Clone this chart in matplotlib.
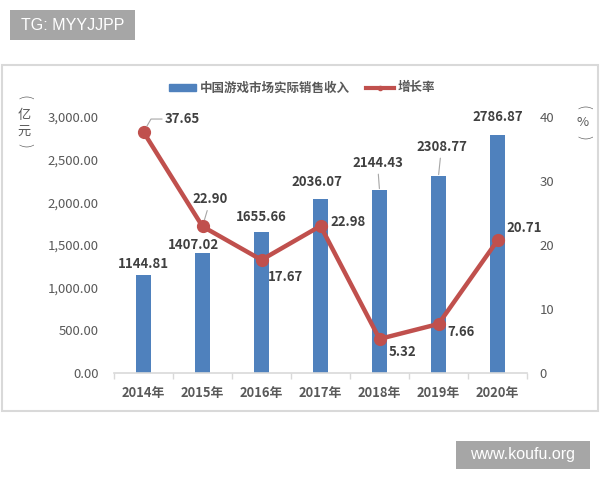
import matplotlib
matplotlib.use('Agg')
import matplotlib.pyplot as plt
from matplotlib.patches import Rectangle, Patch
from matplotlib.lines import Line2D
from matplotlib.ticker import FuncFormatter

plt.rcParams['font.family'] = ['Noto Sans CJK SC', 'DejaVu Sans']

# 数据
years = ['2014年', '2015年', '2016年', '2017年', '2018年', '2019年', '2020年']
revenue = [1144.81, 1407.02, 1655.66, 2036.07, 2144.43, 2308.77, 2786.87]
growth = [37.65, 22.90, 17.67, 22.98, 5.32, 7.66, 20.71]

# 标签偏移 (像素)
bar_label_offsets = [(0, 11), (-9, 8), (0, 15), (-4, 17), (-2, 27), (3, 29), (0, 18)]
bar_leaders = [False, False, False, False, True, True, False]
line_label_offsets = [(39, 13), (8, 27), (24, -17), (28, 4), (23, -13), (23, -8), (27, 12)]
line_leaders = [True, True, False, False, False, False, False]

BLUE = '#4f81bd'
RED = '#c0504d'
GRID = '#d9d9d9'
TXT = '#404040'
TICK = '#595959'

W, H = 600, 480
fig = plt.figure(figsize=(6, 4.8), dpi=100)

ax = fig.add_axes([114 / W, 1 - 373 / H, 413 / W, 256 / H])
ax2 = ax.twinx()

x = list(range(len(years)))
ax.bar(x, revenue, width=0.27, color=BLUE, zorder=2)
ax.set_xlim(-0.5, len(years) - 0.5)
ax.set_ylim(0, 3000)
ax.set_yticks(range(0, 3001, 500))
ax.yaxis.set_major_formatter(FuncFormatter(lambda v, p: '{:,.2f}'.format(v)))
ax.tick_params(axis='y', length=0, pad=11, labelsize=9.5, labelcolor=TICK)
ax.set_xticks(x)
ax.set_xticklabels(years, fontsize=9.3, color=TICK, fontweight='bold')
ax.set_xticks([i - 0.5 for i in range(len(years) + 1)], minor=True)
ax.tick_params(axis='x', which='major', length=0, pad=9)
ax.tick_params(axis='x', which='minor', length=4, color=GRID, width=1)
for s in ['top', 'left', 'right']:
    ax.spines[s].set_visible(False)
ax.spines['bottom'].set_color(GRID)
ax.spines['bottom'].set_linewidth(1.2)

ax2.plot(x, growth, color=RED, lw=3.2, marker='o', markersize=8.5, zorder=3)
ax2.set_ylim(0, 40)
ax2.set_yticks(range(0, 41, 10))
ax2.tick_params(axis='y', length=0, pad=9, labelsize=9.5, labelcolor=TICK)
for s in ax2.spines.values():
    s.set_visible(False)

# 柱状图数据标签
for i, v in enumerate(revenue):
    dx, dy = bar_label_offsets[i]
    ap = None
    if bar_leaders[i]:
        ap = dict(arrowstyle='-', color='#a6a6a6', lw=0.8, shrinkA=1, shrinkB=1)
    ax.annotate('{:.2f}'.format(v), xy=(i, v), xytext=(dx, dy),
                textcoords='offset pixels', ha='center', va='center',
                fontsize=9.5, fontweight='bold', color=TXT, arrowprops=ap,
                zorder=5)

# 折线数据标签
for i, v in enumerate(growth):
    dx, dy = line_label_offsets[i]
    ap = None
    if line_leaders[i]:
        if i == 0:
            ap = dict(arrowstyle='-', color='#a6a6a6', lw=0.8, shrinkA=0, shrinkB=5,
                      relpos=(0, 0.5), connectionstyle='angle,angleA=0,angleB=60,rad=0')
        else:
            ap = dict(arrowstyle='-', color='#a6a6a6', lw=0.8, shrinkA=1, shrinkB=5)
    ax2.annotate('{:.2f}'.format(v), xy=(i, v), xytext=(dx, dy),
                 textcoords='offset pixels', ha='center', va='center',
                 fontsize=9.5, fontweight='bold', color=TXT, arrowprops=ap,
                 zorder=5)


# 坐标轴单位 (竖排)
def vertical_unit(xc, items):
    for y, ch, rot in items:
        if rot:
            fig.text(xc / W, 1 - y / H, ch, ha='center', va='center', rotation=rot,
                     fontsize=11, color=TICK, family=['DejaVu Sans'],
                     fontweight='light')
        else:
            fig.text(xc / W, 1 - y / H, ch, ha='center', va='center',
                     fontsize=9.5, color=TICK)


vertical_unit(24, [(98, '(', -90), (116, '亿', 0), (131, '元', 0), (146, ')', -90)])
vertical_unit(583, [(108, '(', -90), (123, '%', 0), (138, ')', -90)])

# 图例
handles = [Patch(color=BLUE),
           Line2D([0], [0], color=RED, lw=3, marker='o', markersize=3)]
fig.legend(handles, ['中国游戏市场实际销售收入', '增长率'], loc='center',
           bbox_to_anchor=(302 / W, 1 - 88 / H), ncol=2, frameon=False,
           handlelength=2.2, handleheight=0.5, columnspacing=1.3,
           handletextpad=0.3, labelcolor=TICK, prop={'weight': 'bold', 'size': 9})

# 图表边框
fig.patches.append(Rectangle((2 / W, 1 - 411 / H), 596 / W, 346 / H,
                             transform=fig.transFigure, fill=False,
                             ec=GRID, lw=1.5))

# 水印
for (x0, y0, x1, y1, txt) in [(10, 10, 135, 40, 'TG: MYYJJPP'),
                              (456, 441, 590, 469, 'www.koufu.org')]:
    fig.patches.append(Rectangle((x0 / W, 1 - y1 / H), (x1 - x0) / W, (y1 - y0) / H,
                                 transform=fig.transFigure, fc='#a6a6a6', ec='none'))
    fig.text((x0 + x1) / 2 / W, 1 - (y0 + y1) / 2 / H, txt, ha='center', va='center',
             color='white', fontsize=11.5, family=['Liberation Sans', 'DejaVu Sans'])

fig.savefig('out.png', dpi=100)
